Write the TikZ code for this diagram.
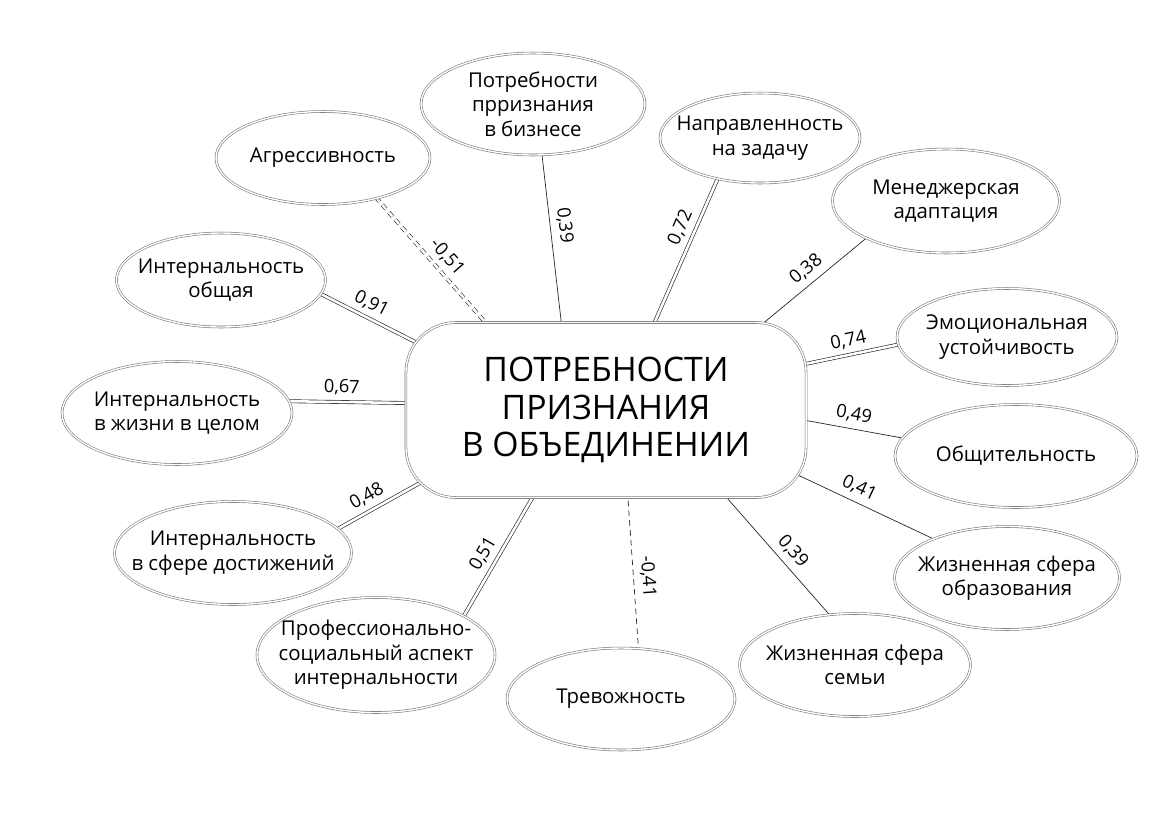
\documentclass[tikz,border=0pt]{standalone}
\usepackage{fontspec}
\setmainfont{Open Sans}
\usetikzlibrary{shapes.geometric}
\pgfdeclarelayer{bg}
\pgfsetlayers{bg,main}
\tikzset{
  oval/.style 2 args={ellipse,draw=black!55,double,double distance=1pt,fill=white,
    inner xsep=-30pt,inner ysep=-10pt,minimum width=#1*0.025cm,minimum height=#2*0.025cm,
    align=center,font=\fontsize{14.5}{17.5}\selectfont},
  core/.style={rectangle,rounded corners=1.25cm,draw=black!55,double,double distance=1pt,
    fill=white,minimum width=10cm,minimum height=4.375cm,align=center,
    font=\fontsize{24}{26.5}\selectfont},
  link/.style={draw=black!85,line width=0.5pt,shorten <=-12pt,shorten >=-3pt},
  strong/.style={link,double,double distance=1.8pt,line width=0.45pt},
  neg/.style={dash pattern=on 4pt off 3pt},
  coef/.style={sloped,above=3pt,inner sep=1.5pt,font=\fontsize{13}{15}\selectfont}
}

\begin{document}
\begin{tikzpicture}[x=0.025cm,y=-0.025cm]
\useasboundingbox (0,0) rectangle (1171,825);

\node[core] (p) at (606,410) {ПОТРЕБНОСТИ\\ПРИЗНАНИЯ\\В ОБЪЕДИНЕНИИ};

\node[oval={214}{93}] (aggr) at (323,158) {Агрессивность};
\node[oval={224}{102}] (biz) at (533,104) {Потребности\\прризнания\\в бизнесе};
\node[oval={200}{90}] (task) at (760,138) {Направленность\\на задачу};
\node[oval={227}{104}] (mgr) at (946,201) {Менеджерская\\адаптация};
\node[oval={220}{97}] (emo) at (1007,337) {Эмоциональная\\устойчивость};
\node[oval={242}{103}] (comm) at (1016,456) {Общительность};
\node[oval={225}{103}] (edu) at (1007,578) {Жизненная сфера\\образования};
\node[oval={231}{103}] (fam) at (855,665) {Жизненная сфера\\семьи};
\node[oval={228}{102}] (anx) at (621,699) {Тревожность};
\node[oval={238}{115}] (prof) at (376,655) {Профессионально-\\социальный аспект\\интернальности};
\node[oval={237}{103}] (ach) at (233,553) {Интернальность\\в сфере достижений};
\node[oval={230}{103}] (life) at (177,413) {Интернальность\\в жизни в целом};
\node[oval={209}{94}] (gen) at (221,280) {Интернальность\\общая};

\begin{pgfonlayer}{bg}
  \draw[strong,neg] (p.144) -- node[coef,pos=0.45] {-0,51} (aggr.-37);
  \draw[link] (p.117) -- node[coef,pos=0.57] {0,39} (biz.-80);
  \draw[strong] (p.61) -- node[coef,pos=0.62] {0,72} (task.-136);
  \draw[link] (p.29) -- node[coef,pos=0.5] {0,38} (mgr.-155);
  \draw[strong] (p.13) -- node[coef,pos=0.49] {0,74} (emo.-176);
  \draw[link] (p.-3) -- node[coef,pos=0.47] {0,49} (comm.171);
  \draw[link] (p.-19) -- node[coef,pos=0.37] {0,41} (edu.152);
  \draw[link] (p.-36) -- node[coef,pos=0.54] {0,39} (fam.117);
  \draw[link,neg] (p.-76) -- node[coef,pos=0.53] {-0,41} (anx.71);
  \draw[strong] (p.-130) -- node[coef,pos=0.535] {0,51} (prof.24);
  \draw[strong] (p.-158) -- node[coef,pos=0.47] {0,48} (ach.13);
  \draw[strong] (p.178) -- node[coef,pos=0.55] {0,67} (life.6);
  \draw[strong] (p.160) -- node[coef,pos=0.48] {0,91} (gen.-8);
\end{pgfonlayer}
\end{tikzpicture}
\end{document}
